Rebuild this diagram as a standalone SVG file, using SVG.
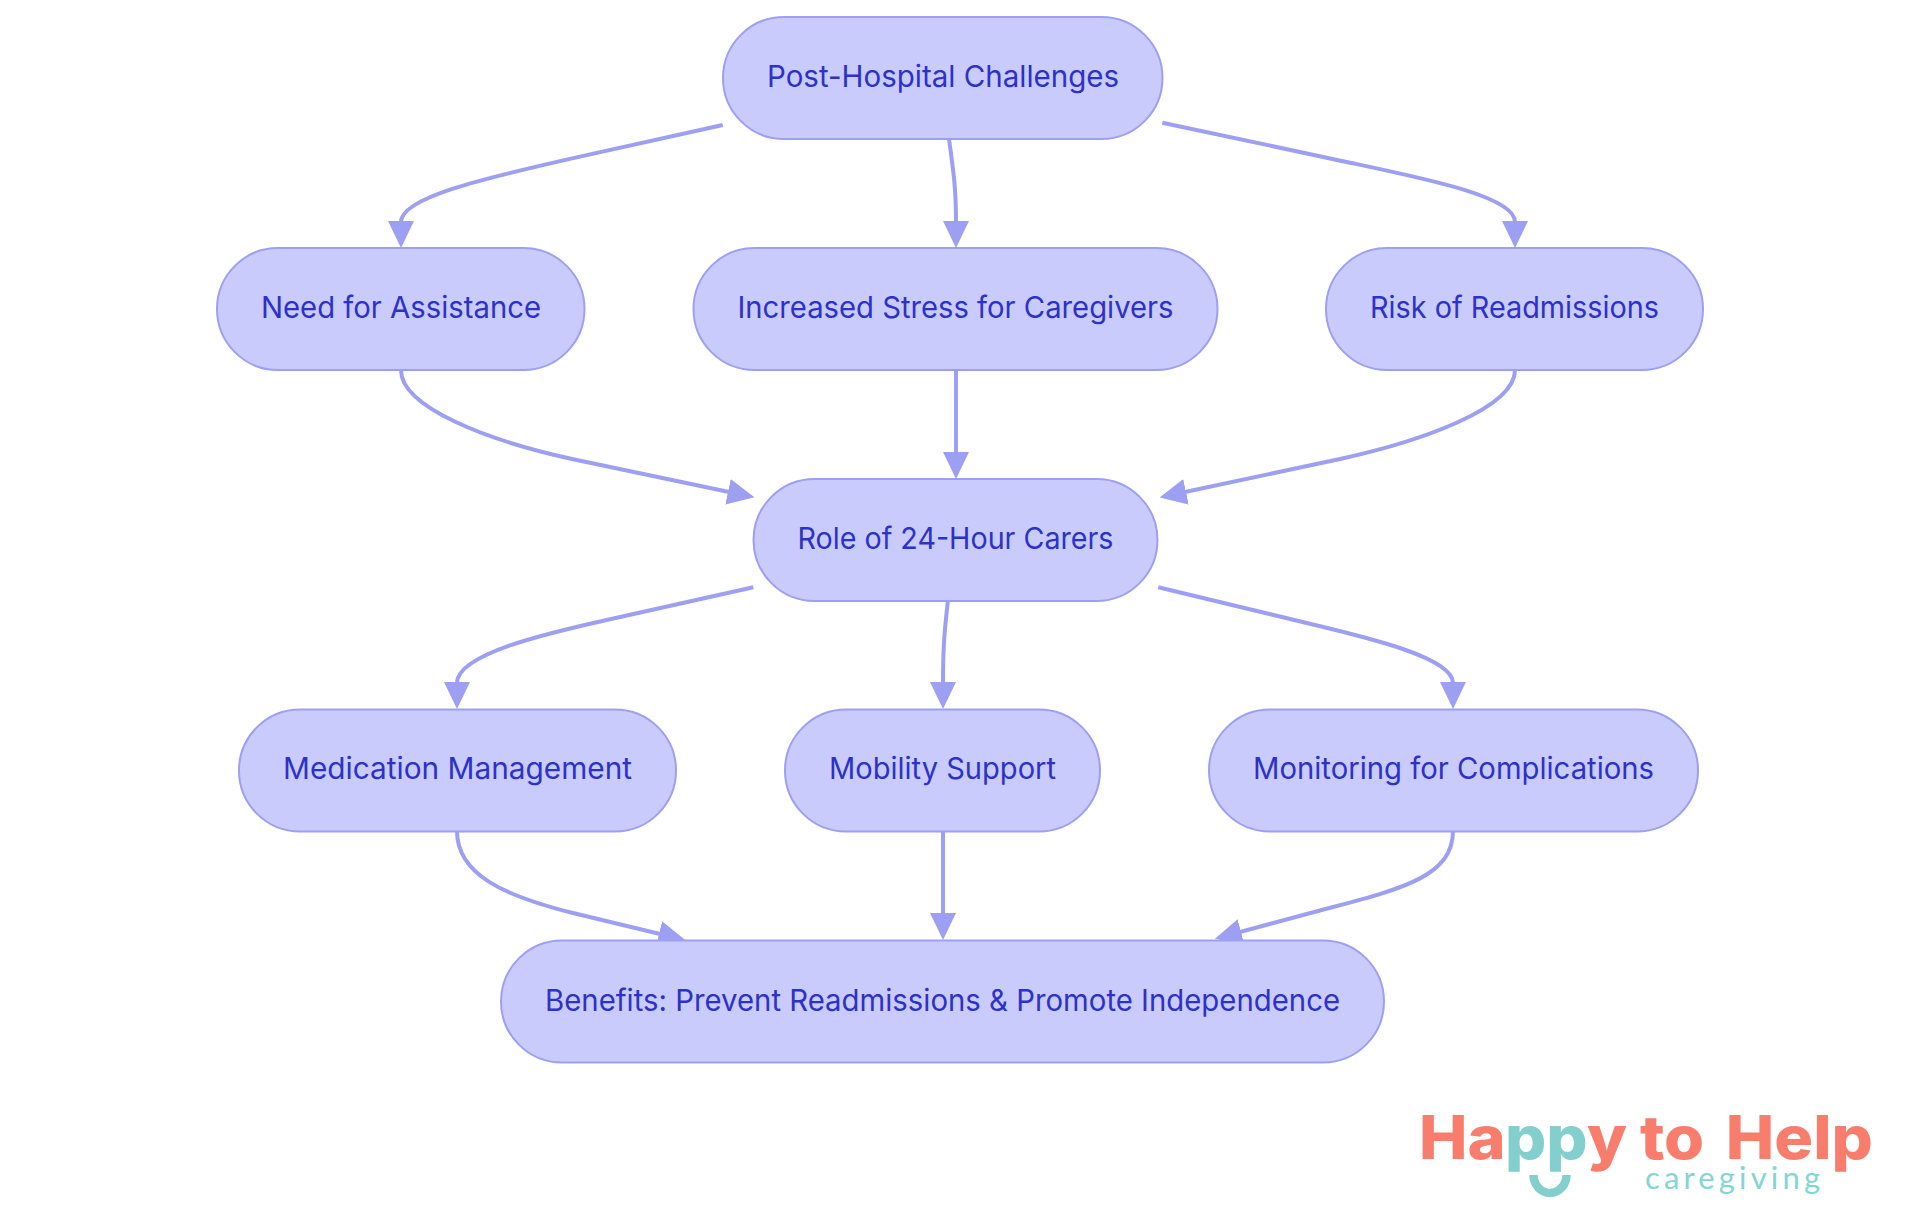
<svg xmlns="http://www.w3.org/2000/svg" width="1920" height="1215" viewBox="0 0 1920 1215">
<style>
.n{fill:#cacbfd;stroke:#9d9ff2;stroke-width:2}
.t{font-family:"Inter","Noto Sans",sans-serif;font-size:30px;fill:#2c32c8;text-anchor:middle}
.e{fill:none;stroke:#9d9ff2;stroke-width:4;marker-end:url(#a)}
.l{font-family:"Inter","Liberation Sans",sans-serif;font-size:60px;font-weight:800;fill:#f87d6d}
</style>
<defs><marker id="a" markerUnits="userSpaceOnUse" markerWidth="27" markerHeight="26" refX="1" refY="13" orient="auto"><path d="M0 0L27 13L0 26z" fill="#9d9ff2"/></marker></defs>
<rect width="1920" height="1215" fill="#fff"/>
<g id="connectors">
<path class="e" d="M722.700 125L580 156.600C480 179 401 198 401 222"/>
<path class="e" d="M949 139C954 175 956 190 956 222"/>
<path class="e" d="M1162.300 122.700L1350 162.700C1430 179.700 1515 197 1515 222"/>
<path class="e" d="M401 370C401 408 490 441 572 459L729 492"/>
<path class="e" d="M956 370V453"/>
<path class="e" d="M1515 370C1515 408 1422 441 1340 459L1185 492"/>
<path class="e" d="M753.300 587.300L606.700 620C546.700 633.400 457 654 457 683"/>
<path class="e" d="M948 600C944 635 943 650 943 683"/>
<path class="e" d="M1158.300 587.300L1306.700 623C1370 638 1453 658 1453 683"/>
<path class="e" d="M457 831C457 875 505 896 573 913L660 934"/>
<path class="e" d="M943 831V914"/>
<path class="e" d="M1453 831C1453 875 1405 888 1333 907L1240 932"/>
</g>
<g id="n1"><rect class="n" x="723" y="17" width="439.500" height="122" rx="61"/><text class="t" x="943" y="86.500" textLength="352" lengthAdjust="spacingAndGlyphs">Post-Hospital Challenges</text></g>
<g id="n2"><rect class="n" x="217" y="248" width="367.500" height="122" rx="61"/><text class="t" x="401" y="317.500" textLength="280" lengthAdjust="spacingAndGlyphs">Need for Assistance</text></g>
<g id="n3"><rect class="n" x="693.500" y="248" width="524" height="122" rx="61"/><text class="t" x="955.500" y="317.500" textLength="436" lengthAdjust="spacingAndGlyphs">Increased Stress for Caregivers</text></g>
<g id="n4"><rect class="n" x="1326" y="248" width="377" height="122" rx="61"/><text class="t" x="1514.500" y="317.500" textLength="289" lengthAdjust="spacingAndGlyphs">Risk of Readmissions</text></g>
<g id="n5"><rect class="n" x="753.500" y="479" width="404" height="122" rx="61"/><text class="t" x="955.500" y="548.500" textLength="316" lengthAdjust="spacingAndGlyphs">Role of 24-Hour Carers</text></g>
<g id="n6"><rect class="n" x="239" y="709.500" width="437" height="122" rx="61"/><text class="t" x="457.500" y="779" textLength="349" lengthAdjust="spacingAndGlyphs">Medication Management</text></g>
<g id="n7"><rect class="n" x="785" y="709.500" width="315" height="122" rx="61"/><text class="t" x="942.500" y="779" textLength="227" lengthAdjust="spacingAndGlyphs">Mobility Support</text></g>
<g id="n8"><rect class="n" x="1209" y="709.500" width="489" height="122" rx="61"/><text class="t" x="1453.500" y="779" textLength="401" lengthAdjust="spacingAndGlyphs">Monitoring for Complications</text></g>
<g id="n9"><rect class="n" x="501" y="940.500" width="883" height="122" rx="61"/><text class="t" x="942.500" y="1010.500" textLength="795" lengthAdjust="spacingAndGlyphs">Benefits: Prevent Readmissions &amp; Promote Independence</text></g>
<g id="logo">
<text class="l" transform="translate(1419 1158.500) scale(1.08 1)"><tspan x="0">Ha</tspan><tspan x="79.600" fill="#82cfcd">pp</tspan><tspan x="155.500">y </tspan><tspan x="204.600">to </tspan><tspan x="284">Help</tspan></text>
<path d="M1533.500 1175A16.500 18 0 0 0 1566.500 1175" fill="none" stroke="#82cfcd" stroke-width="8.500"/>
<text x="1645" y="1189" textLength="178" font-family="Lato,'Liberation Sans',sans-serif" font-size="31" letter-spacing="3" fill="#84d5d3">caregiving</text>
</g>
</svg>
